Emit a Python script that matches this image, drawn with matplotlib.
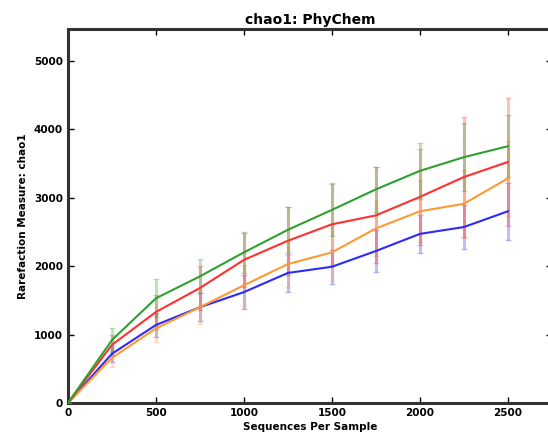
import numpy as np
import matplotlib
matplotlib.use("Agg")
import matplotlib.pyplot as plt

depth = [0, 250, 500, 750, 1000, 1250, 1500, 1750, 2000, 2250, 2500]

blue = [0, 720, 1140, 1400, 1620, 1900, 1990, 2220, 2470, 2570, 2800]
blue_err = [0, 120, 180, 200, 250, 280, 250, 300, 280, 320, 420]
orange = [0, 660, 1090, 1400, 1720, 2030, 2200, 2550, 2800, 2910, 3280]
orange_err = [0, 130, 200, 250, 300, 330, 420, 400, 450, 500, 550]
red = [0, 850, 1330, 1680, 2090, 2370, 2610, 2740, 3010, 3300, 3520]
red_err = [0, 150, 250, 320, 400, 500, 600, 700, 700, 870, 930]
green = [0, 920, 1530, 1850, 2200, 2530, 2820, 3120, 3390, 3590, 3750]
green_err = [0, 170, 280, 250, 300, 330, 380, 330, 410, 500, 450]

series = [
    (blue, blue_err, '#2a2aff'),
    (orange, orange_err, '#ff9a33'),
    (red, red_err, '#ff3030'),
    (green, green_err, '#2ea02e'),
]

fig = plt.figure(figsize=(5.48, 4.41), dpi=100)
ax = fig.add_axes([0.124, 0.086, 0.883, 0.848])

for vals, err, col in series:
    ax.errorbar(depth, vals, yerr=err, color=col, lw=1.5,
                elinewidth=2.2, ecolor=col, capsize=2, zorder=3)

# make error bars translucent, lines solid
for c in ax.containers:
    for bar in c[2]:
        bar.set_alpha(0.3)
    for cap in c[1]:
        cap.set_alpha(0.3)

ax.set_xlim(0, 2750)
ax.set_ylim(0, 5460)
ax.set_xticks([0, 500, 1000, 1500, 2000, 2500])
ax.set_yticks([0, 1000, 2000, 3000, 4000, 5000])
ax.tick_params(direction='in', top=True, right=True, length=4, width=1,
               labelsize=7.5)
for lab in ax.get_xticklabels() + ax.get_yticklabels():
    lab.set_fontweight('bold')
for s in ax.spines.values():
    s.set_linewidth(2.2)
    s.set_color('#333333')

ax.set_title('chao1: PhyChem', fontsize=10, fontweight='bold', pad=4)
ax.set_xlabel('Sequences Per Sample', fontsize=7.5, fontweight='bold', labelpad=3)
ax.set_ylabel('Rarefaction Measure: chao1', fontsize=7.5, fontweight='bold', labelpad=4)

fig.savefig('out.png', dpi=100)
